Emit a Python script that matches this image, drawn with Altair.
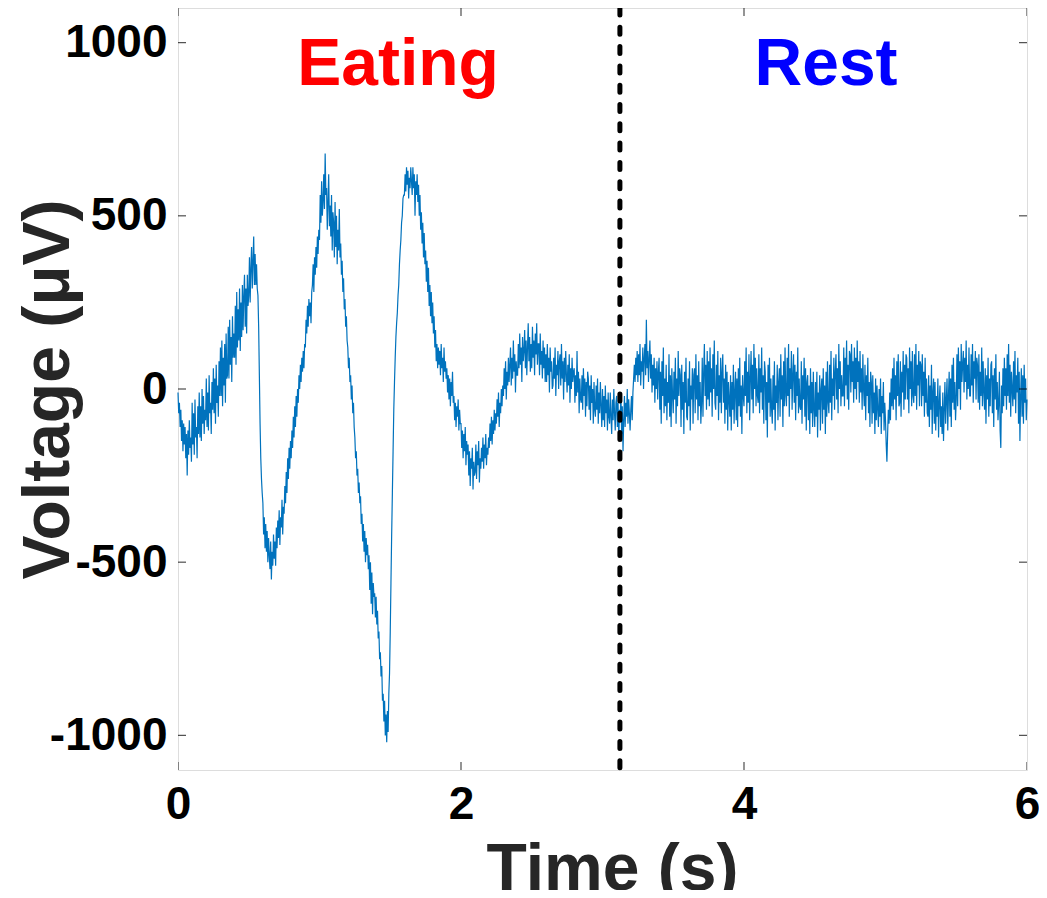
import altair as alt
import pandas as pd

voltage_uv = [
    -10, -70, -40, -110, -60, -150, -90, -180, -100, -160,
    -110, -200, -130, -250, -120, -190, -90, -170, -140, -210,
    -40, -160, -70, -190, -30, -140, -110, -200, -50, -130,
    -10, -140, -50, -150, 0, -100, -20, -130, -60, -90,
    30, -110, -10, -120, 40, -70, -40, -130, 20, -60,
    60, -70, 30, -100, 70, -40, 10, -80, 80, -20,
    120, -20, 140, -50, 90, 10, 130, -40, 160, 30,
    40, 180, 30, 200, 70, 150, 20, 210, 90, 160,
    90, 240, 70, 280, 120, 230, 140, 290, 110, 250,
    150, 300, 170, 270, 330, 180, 290, 160, 330, 240,
    270, 380, 250, 350, 410, 290, 370, 440, 300, 390,
    300, 360, 290, 270, 180, 40, -100, -200, -260, -300,
    -330, -420, -370, -460, -390, -470, -410, -500, -430, -480,
    -520, -440, -550, -470, -510, -420, -490, -440, -510, -400,
    -460, -380, -430, -350, -450, -370, -400, -320, -420, -340,
    -360, -280, -330, -240, -300, -200, -260, -170, -230, -150,
    -200, -120, -170, -80, -140, -50, -110, -20, -80, 0,
    -40, 40, 0, 70, 20, 90, 50, 110, 60, 130,
    120, 200, 160, 240, 180, 260, 210, 250, 190, 280,
    300, 360, 280, 380, 330, 410, 350, 440, 390, 460,
    430, 560, 480, 600, 500, 540, 620, 520, 680, 560,
    580, 460, 540, 620, 470, 530, 440, 560, 400, 510,
    480, 380, 540, 410, 500, 360, 460, 400, 520, 380,
    420, 330, 370, 280, 320, 230, 260, 180, 210, 140,
    120, 60, 90, 20, 40, -30, 10, -70, -40, -110,
    -140, -200, -180, -250, -230, -300, -270, -330, -310, -390,
    -360, -440, -390, -470, -410, -500, -430, -480, -450, -520,
    -480, -580, -500, -620, -530, -650, -560, -600, -590, -660,
    -600, -680, -640, -720, -700, -780, -760, -830, -800, -900,
    -880, -960, -900, -1000, -940, -1020, -930, -990, -880, -820,
    -700, -560, -420, -300, -180, -60, 20, 90, 150, 190,
    220, 270, 300, 360, 400, 430, 480, 500, 550, 560,
    560, 620, 570, 640, 590, 630, 550, 610, 580, 640,
    600, 560, 640, 580, 620, 500, 600, 560, 620, 540,
    590, 500, 560, 460, 510, 420, 480, 380, 450, 360,
    400, 310, 370, 280, 350, 240, 300, 210, 280, 190,
    250, 160, 210, 120, 170, 80, 130, 60, 120, 70,
    110, 40, 130, 60, 90, 20, 120, 50, 80, 30,
    60, -10, 40, -30, 30, -50, 20, -20, 50, -40,
    -20, -90, -40, -110, -50, -80, -30, -120, -60, -100,
    -100, -170, -120, -200, -130, -180, -110, -220, -150, -190,
    -160, -250, -180, -280, -200, -230, -170, -290, -210, -250,
    -240, -160, -260, -180, -220, -150, -270, -200, -230, -170,
    -210, -140, -230, -160, -200, -130, -220, -170, -190, -140,
    -170, -100, -150, -80, -160, -90, -130, -60, -120, -70,
    -100, -30, -80, -10, -110, -40, -70, 0, -50, 10,
    -20, 60, 0, 80, -30, 50, 10, 90, 20, 70,
    120, 10, 90, 30, 140, 50, 100, -10, 80, 40,
    40, 130, 60, 160, 70, 120, 20, 150, 80, 110,
    170, 60, 140, 40, 120, 190, 80, 150, 50, 130,
    60, 180, 90, 140, 40, 160, 100, 190, 70, 130,
    130, 40, 160, 70, 110, 30, 140, 60, 120, 20,
    100, 20, 130, 40, 90, -10, 120, 50, 80, 0,
    10, 90, 30, 120, -20, 70, 40, 110, 0, 80,
    100, 10, 130, 30, 80, -30, 90, 20, 110, 40,
    -10, 70, 10, 100, -40, 60, 0, 90, 20, 50,
    60, -40, 40, -20, 110, -10, 50, -70, 30, -30,
    -40, 40, -60, 60, -20, 30, -80, 20, -50, 50,
    30, -60, 10, -90, 40, -40, 0, -100, 20, -60,
    -80, 10, -60, 30, -100, -10, -70, 20, -50, -110,
    0, -90, -20, -110, 10, -70, -30, -120, -10, -80,
    -100, -10, -80, -130, -30, -90, 0, -70, -120, -40,
    -20, -110, -40, -150, -60, -90, -10, -130, -50, -180,
    -90, -20, -110, -40, -80, 0, -100, -30, -70, -120,
    -60, -20, -90, -10, 30, 70, 20, 90, 40, 110,
    20, 100, 40, 130, 10, 80, 50, 120, 0, 90,
    130, 40, 200, 60, 110, 20, 90, 140, 30, 100,
    -10, 70, 10, 90, -40, 60, 0, 80, -30, 50,
    90, -60, 50, -100, 80, -20, 120, -70, 30, -50,
    70, -90, 20, -40, 100, -80, 40, -110, 60, -20,
    -70, 50, -30, 90, -100, 30, -50, 110, -20, 60,
    40, -110, 70, -60, 20, -130, 50, -40, 90, -80,
    -90, 30, -50, 80, -120, 10, -30, 60, -100, 40,
    60, -70, 100, -30, 40, -90, 80, -50, 20, -100,
    -40, 90, -80, 50, 130, -20, 70, -60, 110, -30,
    80, -50, 120, -10, 60, -80, 100, 0, 140, -40,
    -60, 70, -20, 110, -90, 40, -40, 90, -70, 50,
    100, -40, 30, -100, 70, -60, 50, -120, 20, -30,
    -80, 40, -120, 20, -60, 70, -100, -10, 50, -90,
    30, -110, 60, -50, 90, -80, 10, -130, 40, -20,
    -50, 80, -20, 120, -70, 50, -40, 100, -90, 30,
    110, -30, 70, -70, 130, 0, 90, -50, 60, -20,
    -40, 100, -70, 60, -10, 120, -60, 40, -100, 80,
    50, -90, 20, -140, 70, -40, 90, -80, 30, -60,
    -100, 40, -60, 80, -120, 10, -40, 70, -90, 20,
    60, -80, 100, -30, 40, -110, 80, -50, 120, -20,
    -50, 90, -20, 130, -80, 60, 0, 110, -60, 40,
    100, -40, 70, -90, 50, -20, 120, -70, 30, -50,
    -60, 80, -100, 40, -30, 90, -80, 60, -120, 20,
    40, -90, 10, -130, 60, -70, 20, -110, 50, -60,
    -110, 20, -80, 50, -140, -10, -60, 40, -120, 0,
    30, -100, 60, -60, 10, -130, 50, -80, 80, -40,
    -70, 70, -40, 110, -90, 30, -20, 90, -60, 50,
    100, -30, 60, -70, 130, 0, 80, -50, 40, -20,
    -20, 120, -50, 90, 10, 140, -30, 70, -60, 110,
    100, -10, 130, 20, 80, -40, 120, 0, 90, -30,
    140, 20, 80, -40, 110, -10, 60, -60, 100, 0,
    -50, 70, -90, 40, -20, 90, -70, 20, -110, 50,
    20, -100, 40, -70, -10, -130, 30, -90, 10, -60,
    -110, 0, -80, 30, -130, -20, -70, 20, -120, -40,
    -90, -160, -210, -130, -60, -100, -10, -90, 30, -50,
    60, -60, 90, -30, 40, -90, 80, -20, 100, -50,
    -40, 80, -80, 50, -10, 110, -60, 70, -30, 100,
    90, -30, 60, -70, 120, 0, 80, -50, 110, -20,
    -40, 100, -20, 130, -60, 70, 10, 110, -50, 80,
    70, -50, 100, -20, 50, -80, 90, -40, 30, -70,
    -80, 40, -110, 10, -60, 70, -130, -10, 30, -100,
    20, -120, -20, -80, 30, -140, -40, 10, -110, -50,
    -130, -10, -150, -60, 20, -100, -30, 30, -120, -20,
    50, -80, 30, -110, 70, -40, 90, -60, 20, -90,
    -30, 100, -50, 120, 0, 80, -60, 130, 20, 70,
    110, -10, 90, 20, 140, -30, 70, 0, 120, -20,
    -20, 100, 10, 130, -40, 80, 30, 110, -30, 90,
    70, -40, 100, -60, 50, -20, 120, -50, 80, -10,
    -60, 60, -100, 40, -30, 90, -80, 30, -50, 70,
    80, -70, 40, -110, 60, -30, 100, -60, 20, -90,
    -40, 50, -120, -170, 10, -70, 60, -50, 90, -20,
    60, -60, 100, -20, 130, -40, 70, -80, 50, 0,
    -50, 80, -30, 110, -70, 40, -10, 90, -100, 50,
    -150, -20, 60, -80, 40, -100, 70, -40, 30, -90,
    -30,
]
time_s = [i / 200 for i in range(len(voltage_uv))]

x_ticks = [0, 2, 4, 6]
y_ticks = [-1000, -500, 0, 500, 1000]
x_domain = [0, 6]
y_domain = [-1100, 1100]

boundary_time = [3.123]
label_text = ["Eating", "Rest"]
label_time = [1.555, 4.58]
label_volt = [877, 877]
label_color = ["#FF0000", "#0000FF"]

FONT = "Liberation Sans"

signal = pd.DataFrame({"t": time_s, "v": voltage_uv})

xscale = alt.Scale(domain=x_domain, nice=False, zero=False)
yscale = alt.Scale(domain=y_domain, nice=False, zero=False)

x_axis = alt.Axis(
    values=x_ticks, ticks=False, domain=False, grid=False, labelFlush=False,
    labelExpr="'' + datum.value",
    labelFont=FONT, labelFontSize=46, labelFontWeight="bold", labelColor="black",
    labelPadding=12, title="Time (s)", titleFont=FONT, titleFontSize=66,
    titleFontWeight="bold", titleColor="#262626", titleX=434, titleY=119,
    titleBaseline="alphabetic", titleAlign="center",
)
y_axis = alt.Axis(
    values=y_ticks, ticks=False, domain=False, grid=False, labelFlush=False,
    labelExpr="'' + datum.value",
    labelFont=FONT, labelFontSize=46, labelFontWeight="bold", labelColor="black",
    labelPadding=11, title="Voltage (\u03bcV)", titleFont=FONT, titleFontSize=66,
    titleFontWeight="bold", titleColor="#262626", titleX=-110, titleY=381,
    titleAngle=270, titleBaseline="alphabetic", titleAlign="center",
)

line = alt.Chart(signal).mark_line(color="#0072BD", strokeWidth=1.2).encode(
    x=alt.X("t:Q", scale=xscale, axis=x_axis),
    y=alt.Y("v:Q", scale=yscale, axis=y_axis),
)

# inward tick marks on all four sides
ytick_df = pd.DataFrame({
    "x": [x_domain[0]] * len(y_ticks) + [x_domain[1]] * len(y_ticks),
    "y": y_ticks + y_ticks,
})
xtick_df = pd.DataFrame({
    "x": x_ticks + x_ticks,
    "y": [y_domain[0]] * len(x_ticks) + [y_domain[1]] * len(x_ticks),
})
yticks = alt.Chart(ytick_df).mark_tick(
    orient="horizontal", size=16, thickness=1.2, color="black", clip=True
).encode(x=alt.X("x:Q", scale=xscale), y=alt.Y("y:Q", scale=yscale))
xticks = alt.Chart(xtick_df).mark_tick(
    orient="vertical", size=16, thickness=1.2, color="black", clip=True
).encode(x=alt.X("x:Q", scale=xscale), y=alt.Y("y:Q", scale=yscale))

divider = alt.Chart(pd.DataFrame({"t": boundary_time})).mark_rule(
    color="black", strokeWidth=5, strokeDash=[7, 12.3], strokeCap="round"
).encode(x=alt.X("t:Q", scale=xscale))

labels = alt.Chart(pd.DataFrame({
    "label": label_text, "t": label_time, "v": label_volt, "c": label_color,
})).mark_text(
    font=FONT, fontSize=66, fontWeight="bold", baseline="alphabetic", align="center"
).encode(
    x=alt.X("t:Q", scale=xscale),
    y=alt.Y("v:Q", scale=yscale),
    text="label:N",
    color=alt.Color("c:N", scale=None),
)

chart = alt.layer(line, divider, yticks, xticks, labels).properties(
    width=849, height=762,
    autosize=alt.AutoSizeParams(type="none"),
    padding={"left": 170, "top": 0, "right": 12, "bottom": 120},
).configure_view(stroke="#404040", strokeWidth=1.2).configure(background="white")

chart.save("out.html", embed_options={"renderer": "svg", "actions": False})
